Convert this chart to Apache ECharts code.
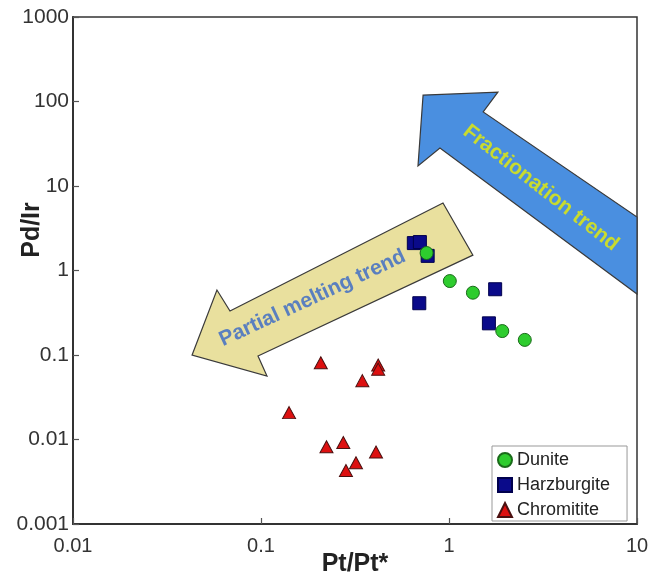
<!DOCTYPE html>
<html>
<head>
<meta charset="utf-8">
<script src="https://cdn.jsdelivr.net/npm/echarts@6/dist/echarts.min.js"></script>
<style>
html,body{margin:0;padding:0;background:#fff;}
#chart{width:648px;height:577px;}
</style>
</head>
<body>
<div id="chart"></div>
<script>
// ---- data ----
const seriesNames = ['Dunite', 'Harzburgite', 'Chromitite'];

const duniteX = [0.76, 1.01, 1.34, 1.92, 2.53];
const duniteY = [1.61, 0.75, 0.546, 0.192, 0.151];

const harzX = [0.65, 0.70, 0.77, 0.695, 1.76, 1.63];
const harzY = [2.11, 2.17, 1.49, 0.41, 0.60, 0.237];

const chromX = [0.208, 0.42, 0.42, 0.346, 0.141, 0.223, 0.274, 0.409, 0.32, 0.283];
const chromY = [0.081, 0.076, 0.068, 0.0497, 0.0208, 0.0082, 0.0092, 0.0071, 0.0053, 0.0043];

const xTicks = [0.01, 0.1, 1, 10];
const yTicks = [0.001, 0.01, 0.1, 1, 10, 100, 1000];

// trend arrows (annotation outlines, in data coordinates)
const fracArrow = [[0.728, 119], [1.82, 129], [1.52, 75.2], [10, 4.30], [10, 0.527], [0.895, 28.2], [0.684, 17.3]];
const meltArrow = [[0.0430, 0.100], [0.0583, 0.587], [0.0684, 0.332], [0.929, 6.30], [1.34, 1.52], [0.0964, 0.0973], [0.1076, 0.0564]];
const fracLabel = {text: 'Fractionation trend', at: [3.08, 9.47]};
const meltLabel = {text: 'Partial melting trend', at: [0.188, 0.47]};

function zip(xs, ys) { return xs.map((x, i) => [x, ys[i]]); }
function fmt(v) { return v >= 1 ? String(Math.round(v)) : String(Number(v.toPrecision(1))); }

const FONT = '"Liberation Sans", Arial, sans-serif';

const chart = echarts.init(document.getElementById('chart'), null, {renderer: 'canvas'});

const arrows = [
  {poly: fracArrow, fill: '#4a8fe0', label: fracLabel, color: '#c9db2e', rot: -38},
  {poly: meltArrow, fill: '#e9e09e', label: meltLabel, color: '#5a7fbf', rot: 25}
];

const option = {
  backgroundColor: '#fff',
  animation: false,
  grid: {left: 73, right: 11, top: 17, bottom: 53, containLabel: false, outerBoundsMode: 'none',
         show: true, borderColor: '#333', borderWidth: 1.5, backgroundColor: 'transparent'},
  xAxis: {
    type: 'log', logBase: 10, min: xTicks[0], max: xTicks[xTicks.length - 1],
    name: 'Pt/Pt*', nameLocation: 'middle', nameGap: 28, nameMoveOverlap: false,
    nameTextStyle: {fontFamily: FONT, fontSize: 25, fontWeight: 'bold', color: '#222', verticalAlign: 'top'},
    axisLine: {lineStyle: {color: '#333', width: 2}},
    axisTick: {inside: true, length: 6, lineStyle: {color: '#555', width: 1.2}},
    axisLabel: {fontFamily: FONT, fontSize: 20, color: '#333', margin: 12, formatter: fmt},
    splitLine: {show: false}, minorTick: {show: false}
  },
  yAxis: {
    type: 'log', logBase: 10, min: yTicks[0], max: yTicks[yTicks.length - 1], splitNumber: 6,
    axisLine: {lineStyle: {color: '#333', width: 2}},
    axisTick: {inside: true, length: 6, lineStyle: {color: '#555', width: 1.2}},
    axisLabel: {fontFamily: FONT, fontSize: 21, color: '#333', margin: 4, formatter: fmt},
    splitLine: {show: false}, minorTick: {show: false}
  },
  graphic: [{
    type: 'text', rotation: Math.PI / 2, x: 32, y: 230,
    style: {text: 'Pd/Ir', fontFamily: FONT, fontSize: 25, fontWeight: 'bold', fill: '#222', align: 'center', verticalAlign: 'middle'}
  }],
  legend: {
    data: seriesNames, orient: 'vertical', left: 492, top: 446,
    itemWidth: 14, itemHeight: 14, itemGap: 7,
    padding: [5, 17, 2, 5],
    borderColor: '#999', borderWidth: 1, backgroundColor: '#fff',
    textStyle: {fontFamily: FONT, fontSize: 18, color: '#222'}
  },
  series: [
    {
      type: 'custom', name: 'trends', silent: true, z: 1,
      data: arrows.map((a, i) => [i]),
      renderItem: function (params, api) {
        const a = arrows[params.dataIndex];
        const pts = a.poly.map(p => api.coord(p));
        const c = api.coord(a.label.at);
        return {
          type: 'group',
          children: [
            {type: 'polygon', shape: {points: pts}, style: {fill: a.fill, stroke: '#3a3a3a', lineWidth: 1.2}},
            {type: 'text', x: c[0], y: c[1], rotation: a.rot * Math.PI / 180,
             style: {text: a.label.text, fontFamily: FONT, fontSize: 21, fontWeight: 'bold', fill: a.color, align: 'center', verticalAlign: 'middle'}}
          ]
        };
      }
    },
    {
      type: 'scatter', name: 'Harzburgite', z: 3, symbol: 'rect', symbolSize: 13,
      itemStyle: {color: '#0a0a8a', borderColor: '#00004d', borderWidth: 1, opacity: 1},
      data: zip(harzX, harzY)
    },
    {
      type: 'scatter', name: 'Dunite', z: 4, symbol: 'circle', symbolSize: 13,
      itemStyle: {color: '#2ecc2e', borderColor: '#1a6a1a', borderWidth: 1, opacity: 1},
      data: zip(duniteX, duniteY)
    },
    {
      type: 'scatter', name: 'Chromitite', z: 3, symbol: 'triangle', symbolSize: [13, 12],
      itemStyle: {color: '#dd1010', borderColor: '#4a1010', borderWidth: 1, opacity: 1},
      data: zip(chromX, chromY)
    }
  ]
};
chart.setOption(option);
</script>
</body>
</html>
